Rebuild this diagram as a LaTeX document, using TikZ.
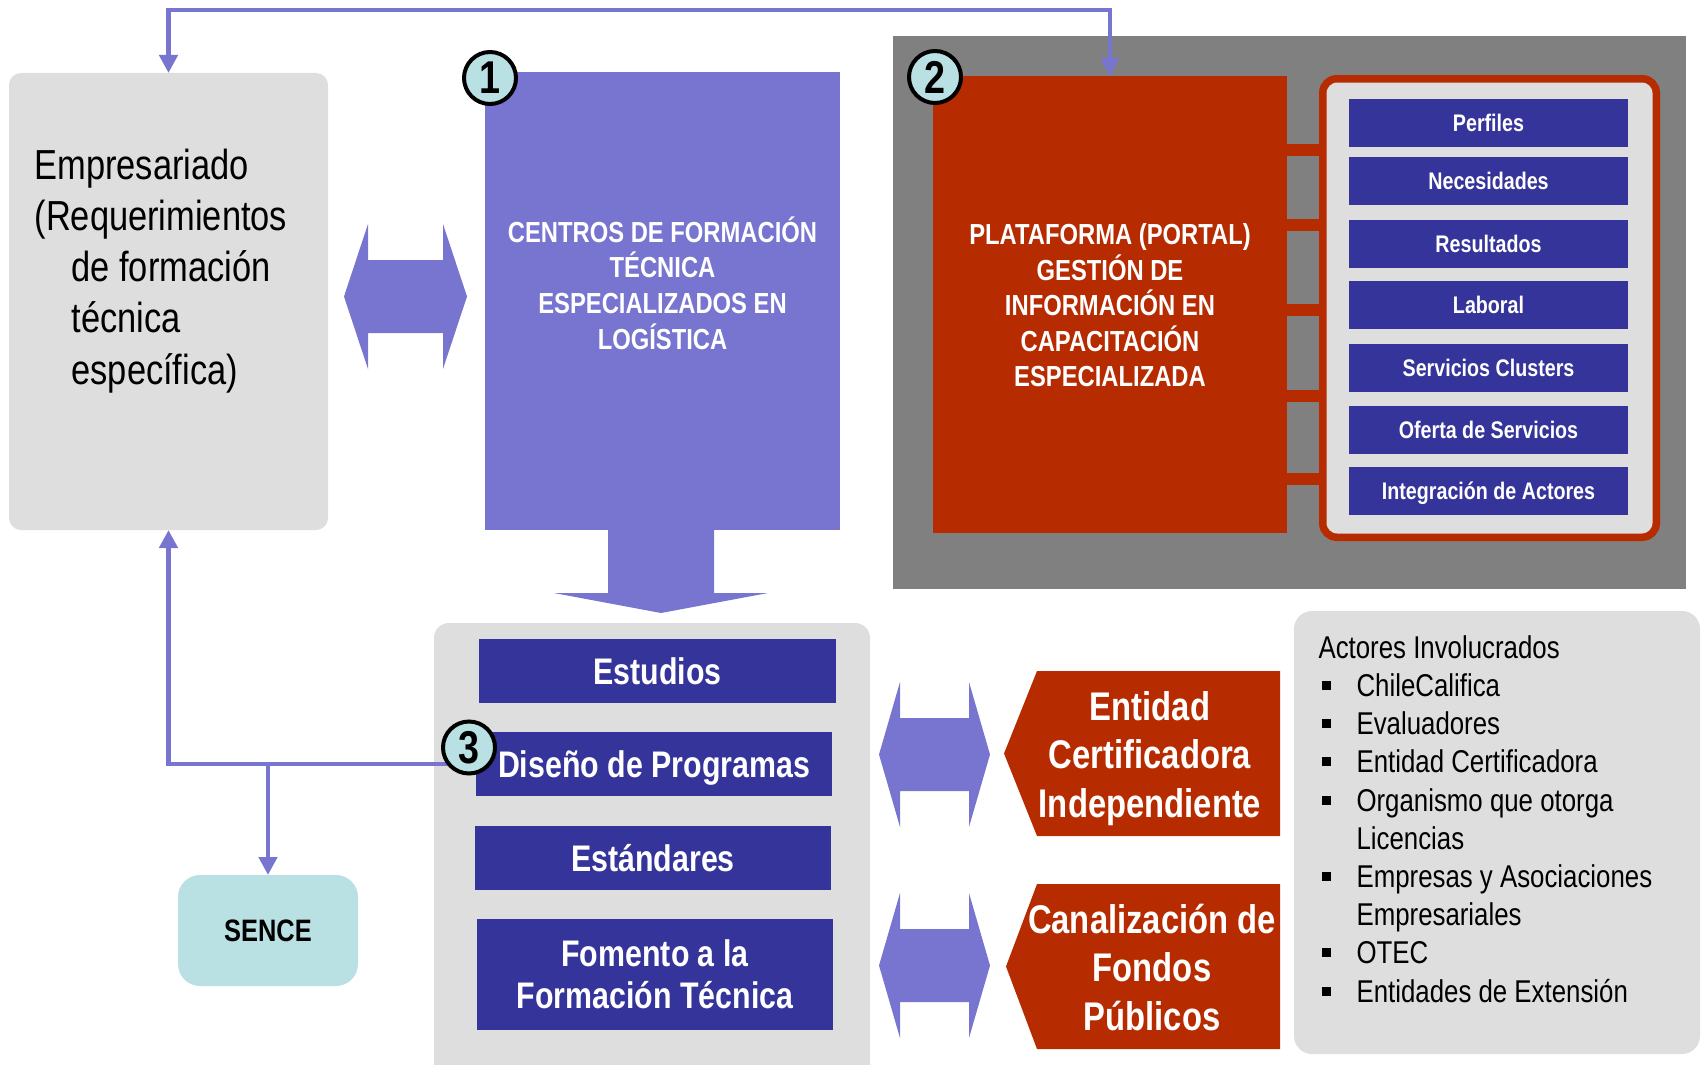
\documentclass[tikz,border=0pt]{standalone}
\usepackage{fontspec}
\setmainfont[FakeStretch=0.82]{Liberation Sans}
\usetikzlibrary{arrows.meta}
\usetikzlibrary{positioning}

\definecolor{lila}{RGB}{119,117,208}
\definecolor{azul}{RGB}{53,52,154}
\definecolor{rojo}{RGB}{182,43,0}
\definecolor{grisclaro}{RGB}{222,222,222}
\definecolor{grisoscuro}{RGB}{128,128,128}
\definecolor{celeste}{RGB}{185,224,227}

\newcommand\actbullet{\hspace*{3pt}\rule[6.5pt]{9pt}{9pt}\hspace*{26pt}}

\tikzset{
  conn/.style={draw=lila,line width=4.5pt},
  flecha/.style={-{Triangle[length=18pt,width=18pt]}},
  caja/.style={rectangle,inner sep=0pt,outer sep=0pt},
  itembox/.style={caja,fill=azul,text=white,minimum width=279pt,minimum height=48pt,text height=17pt,text depth=0pt,font=\bfseries\fontsize{24}{29}\selectfont},
  taskbox/.style={caja,fill=azul,text=white,minimum width=356pt,align=center,font=\bfseries\fontsize{37}{42}\selectfont},
  oneline/.style={minimum height=64pt,text height=27pt,text depth=0pt},
  badge/.style={circle,fill=celeste,draw=black,line width=4pt,minimum size=52pt,inner sep=0pt,font=\bfseries\fontsize{46}{46}\selectfont},
}

\begin{document}
\begin{tikzpicture}[x=1pt,y=-1pt]
\useasboundingbox (0,0) rectangle (1702,1065);

% left column
\node[caja,fill=grisclaro,rounded corners=12pt,minimum width=319pt,minimum height=457pt] (emp) at (168.5,301.5) {};
\node[anchor=base west,align=left,font=\fontsize{42}{51.2}\selectfont] (emptxt) at (31,384) {Empresariado\\(Requerimientos\\\hspace*{37pt}de formación\\\hspace*{37pt}técnica\\\hspace*{37pt}específica)};
\node[caja,fill=celeste,rounded corners=22pt,minimum width=180pt,minimum height=111pt,font=\bfseries\fontsize{31}{31}\selectfont] (sence) at (268,930.5) {SENCE};

% 1: centros
\fill[lila] (344,296.5) -- (368,224) -- (368,260) -- (443,260) -- (443,224) -- (467,296.5) -- (443,369) -- (443,333) -- (368,333) -- (368,369) -- cycle;
\node[caja,fill=lila,minimum width=355pt,minimum height=457.5pt] (cen) at (662.5,301.25) {};
\node[anchor=base,align=center,text=white,font=\bfseries\fontsize{29}{35.6}\selectfont] (centxt) at (662.5,349) {CENTROS DE FORMACIÓN\\TÉCNICA\\ESPECIALIZADOS EN\\LOGÍSTICA};
\fill[lila] (608,530) -- (714,530) -- (714,593) -- (768,593) -- (661,613) -- (554,593) -- (608,593) -- cycle;

% 2: plataforma
\node[caja,fill=grisoscuro,minimum width=793pt,minimum height=553pt] (portal) at (1289.5,312.5) {};
\node[caja,fill=rojo,minimum width=354pt,minimum height=457pt] (plat) at (1110,304.5) {};
\node[anchor=base,align=center,text=white,font=\bfseries\fontsize{29}{35.4}\selectfont] (plattxt) at (1110,386.5) {PLATAFORMA (PORTAL)\\GESTIÓN DE\\INFORMACIÓN EN\\CAPACITACIÓN\\ESPECIALIZADA};
\foreach \yy in {150,225,310,396,479}
  \draw[draw=rojo,line width=12pt] (plat.east |- 0,\yy) -- (1322,\yy);
\node[caja,draw=rojo,line width=7.5pt,fill=grisclaro,rounded corners=14pt,minimum width=333.5pt,minimum height=458.5pt] (marco) at (1489.5,308) {};
\node[itembox] (perf) at (1488.5,123) {Perfiles};
\node[itembox] (nec) at (1488.5,181) {Necesidades};
\node[itembox] (res) at (1488.5,244) {Resultados};
\node[itembox] (lab) at (1488.5,305) {Laboral};
\node[itembox] (serv) at (1488.5,368) {Servicios Clusters};
\node[itembox] (ofe) at (1488.5,430) {Oferta de Servicios};
\node[itembox] (integ) at (1488.5,491) {Integración de Actores};

% 3: tareas
\node[caja,fill=grisclaro,rounded corners=15pt,minimum width=436pt,minimum height=462pt] (tasks) at (652,854) {};
\node[taskbox,oneline,minimum width=357pt] (est) at (657.5,671) {Estudios};
\node[taskbox,oneline] (dis) at (654,764) {Diseño de Programas};
\node[taskbox,oneline] (std) at (653,858) {Estándares};
\node[taskbox,minimum height=111pt] (fom) at (655,974.5) {Fomento a la\\Formación Técnica};

% entidades
\fill[lila] (879,754.5) -- (900,682) -- (900,718) -- (969,718) -- (969,682) -- (990,754.5) -- (969,827) -- (969,791) -- (900,791) -- (900,827) -- cycle;
\fill[lila] (879,965.5) -- (900,893) -- (900,929) -- (969,929) -- (969,893) -- (990,965.5) -- (969,1038) -- (969,1002) -- (900,1002) -- (900,1038) -- cycle;
\fill[rojo] (1004,753.5) -- (1037,671) -- (1280,671) -- (1280,836) -- (1037,836) -- cycle;
\fill[rojo] (1006,966.5) -- (1037,884) -- (1280,884) -- (1280,1049) -- (1037,1049) -- cycle;
\node[anchor=base,align=center,text=white,font=\bfseries\fontsize{40}{48.5}\selectfont] (ent) at (1150,817) {Entidad\\Certificadora\\Independiente};
\node[anchor=base,align=center,text=white,font=\bfseries\fontsize{40}{48.5}\selectfont] (fondos) at (1152,1030) {Canalización de\\Fondos\\Públicos};

% actores
\node[caja,fill=grisclaro,rounded corners=18pt,minimum width=406pt,minimum height=443pt] (act) at (1497,832.5) {};
\node[anchor=base west,align=left,font=\fontsize{31.5}{38.2}\selectfont] (acttxt) at (1315,1002) {Actores Involucrados\\
\actbullet ChileCalifica\\
\actbullet Evaluadores\\
\actbullet Entidad Certificadora\\
\actbullet Organismo que otorga\\
\hspace*{38pt}Licencias\\
\actbullet Empresas y Asociaciones\\
\hspace*{38pt}Empresariales\\
\actbullet OTEC\\
\actbullet Entidades de Extensión};

% connectors
\coordinate (topline) at (0,10);
\draw[conn,{Triangle[length=18pt,width=18pt]}-{Triangle[length=18pt,width=18pt]}] (emp.north) -- (emp.north |- topline) -| (plat.north);
\draw[conn,flecha] (dis.west) -| (emp.south);
\coordinate (split) at (sence.north |- dis.west);
\draw[conn,flecha] (split) -- (sence.north);

% badges
\node[badge] (b1) at (490,78) {1};
\node[badge] (b2) at (935,77) {2};
\node[badge] (b3) at (469,747.5) {3};

\end{tikzpicture}
\end{document}
